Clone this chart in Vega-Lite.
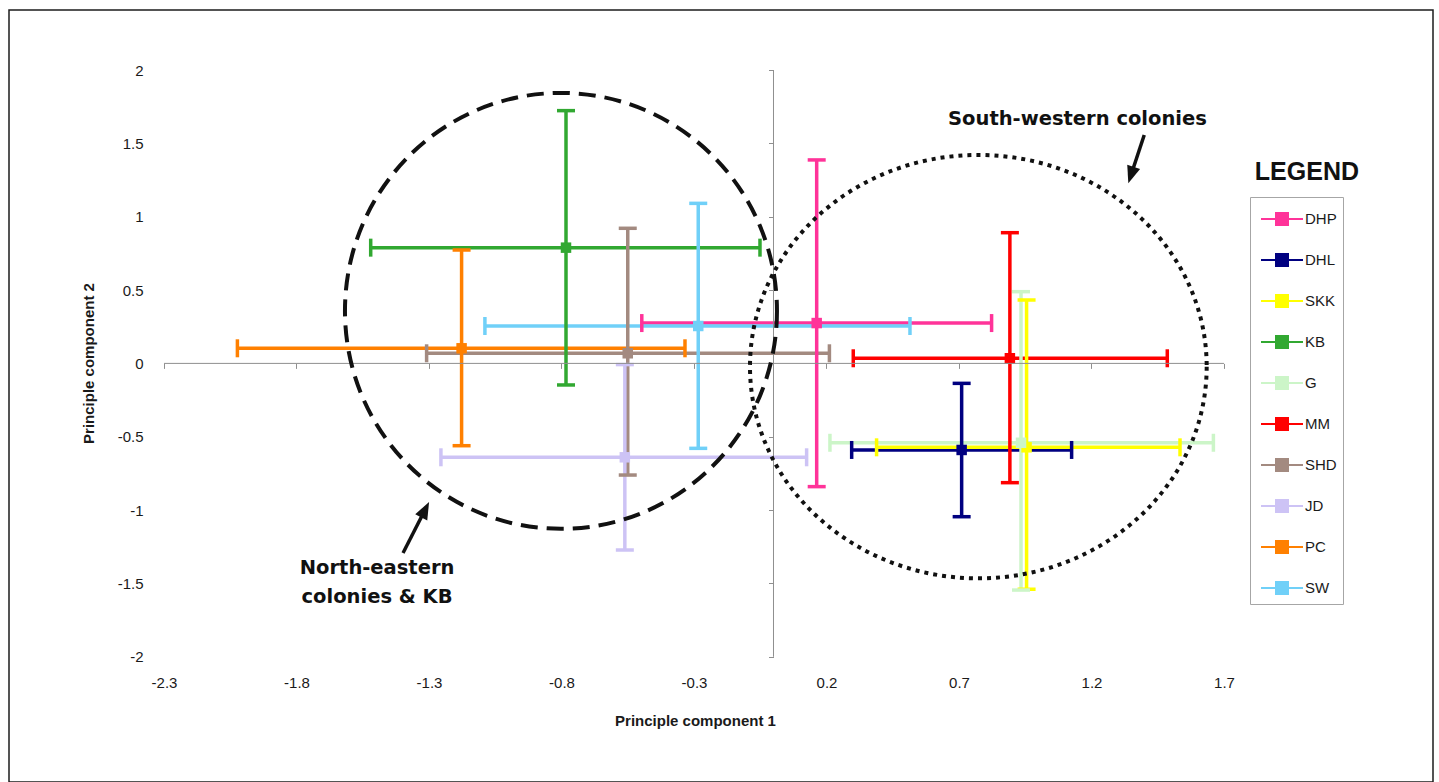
{
  "$schema": "https://vega.github.io/schema/vega-lite/v6.json",
  "width": 1424,
  "height": 772,
  "autosize": {"type": "none"},
  "padding": {"left": 9, "top": 10, "right": 6, "bottom": 0},
  "background": "white",
  "config": {
    "view": {"stroke": "#1c1c1c", "strokeWidth": 1.5},
    "axis": {
      "grid": false,
      "domain": false,
      "ticks": true,
      "tickSize": 5,
      "tickColor": "#8f8f8f",
      "labelFont": "Liberation Sans",
      "labelFontSize": 15,
      "labelColor": "#1a1a1a",
      "titleFont": "Liberation Sans",
      "titleFontSize": 15,
      "titleFontWeight": "bold",
      "titleColor": "#1a1a1a"
    }
  },
  "datasets": {
    "groups": [
      {"grp": "DHP", "x": 0.163, "y": 0.275, "xlo": -0.497, "xhi": 0.823, "ylo": -0.840, "yhi": 1.387},
      {"grp": "DHL", "x": 0.710, "y": -0.590, "xlo": 0.295, "xhi": 1.125, "ylo": -1.045, "yhi": -0.136},
      {"grp": "SKK", "x": 0.955, "y": -0.572, "xlo": 0.389, "xhi": 1.534, "ylo": -1.540, "yhi": 0.432},
      {"grp": "KB", "x": -0.783, "y": 0.789, "xlo": -1.520, "xhi": -0.051, "ylo": -0.147, "yhi": 1.723},
      {"grp": "G", "x": 0.934, "y": -0.541, "xlo": 0.213, "xhi": 1.660, "ylo": -1.545, "yhi": 0.489},
      {"grp": "MM", "x": 0.892, "y": 0.035, "xlo": 0.301, "xhi": 1.486, "ylo": -0.813, "yhi": 0.891},
      {"grp": "SHD", "x": -0.550, "y": 0.069, "xlo": -1.309, "xhi": 0.211, "ylo": -0.761, "yhi": 0.921},
      {"grp": "JD", "x": -0.561, "y": -0.640, "xlo": -1.255, "xhi": 0.125, "ylo": -1.272, "yhi": -0.008},
      {"grp": "PC", "x": -1.177, "y": 0.103, "xlo": -2.023, "xhi": -0.334, "ylo": -0.561, "yhi": 0.773},
      {"grp": "SW", "x": -0.284, "y": 0.255, "xlo": -1.089, "xhi": 0.515, "ylo": -0.579, "yhi": 1.091}
    ],
    "regions": [
      {"region": "North-eastern colonies & KB", "cx": -0.802, "cy": 0.358},
      {"region": "South-western colonies", "cx": 0.773, "cy": -0.022}
    ],
    "arrows": [
      {"arrow": "ne", "x": -1.398, "y": -1.292, "tx": -1.310, "ty": -0.981},
      {"arrow": "sw", "x": 1.399, "y": 1.557, "tx": 1.346, "ty": 1.267}
    ],
    "notes": [
      {"label": "South-western colonies", "x": 1.147, "y": 1.666},
      {"label": "North-eastern", "x": -1.496, "y": -1.395},
      {"label": "colonies & KB", "x": -1.496, "y": -1.592}
    ],
    "heading": [
      {"label": "LEGEND", "x": 2.013, "y": 1.305}
    ]
  },
  "layer": [
    {
      "data": {"name": "groups"},
      "mark": {"type": "rule", "strokeWidth": 3.5},
      "encoding": {
        "x": {
          "field": "xlo",
          "type": "quantitative",
          "scale": {"domain": [-2.8849, 2.4887], "nice": false, "zero": false},
          "axis": {
            "title": "Principle component 1",
            "orient": "bottom",
            "offset": -418.6,
            "values": [-2.3, -1.8, -1.3, -0.8, -0.3, 0.2, 0.7, 1.2, 1.7],
            "labelExpr": "toString(datum.value)",
            "labelPadding": 307,
            "labelFlush": false,
            "labelOverlap": false,
            "titleX": 686,
            "titleY": 357,
            "titleBaseline": "middle"
          }
        },
        "x2": {"field": "xhi"},
        "y": {
          "field": "y",
          "type": "quantitative",
          "scale": {"domain": [-2.8534, 2.409], "nice": false, "zero": false},
          "axis": {
            "title": "Principle component 2",
            "orient": "left",
            "offset": -764.5,
            "values": [-2, -1.5, -1, -0.5, 0, 0.5, 1, 1.5, 2],
            "labelExpr": "toString(datum.value)",
            "labelPadding": 625.5,
            "labelFlush": false,
            "labelOverlap": false,
            "titleX": -685.5,
            "titleY": 353,
            "titleBaseline": "middle"
          }
        },
        "color": {
          "field": "grp",
          "type": "nominal",
          "scale": {
            "domain": ["DHP", "DHL", "SKK", "KB", "G", "MM", "SHD", "JD", "PC", "SW"],
            "range": ["#ff3399", "#000080", "#ffff00", "#31a831", "#ccf5c8", "#ff0000", "#a38a80", "#cdc3f5", "#ff8000", "#70d0f8"]
          },
          "legend": {
            "title": null,
            "orient": "none",
            "legendX": 1241,
            "legendY": 187,
            "padding": 6,
            "strokeColor": "#a6a6a6",
            "fillColor": "white",
            "symbolType": "M -1.4 0 L 1.4 0 M -0.4 -0.4 L 0.4 -0.4 L 0.4 0.4 L -0.4 0.4 Z",
            "symbolSize": 900,
            "symbolOffset": 10,
            "symbolStrokeWidth": 2,
            "labelOffset": 7,
            "rowPadding": 15,
            "labelFont": "Liberation Sans",
            "labelFontSize": 15,
            "labelColor": "#1a1a1a",
            "symbolLimit": 0,
            "encode": {
              "symbols": {
                "update": {
                  "fill": {"scale": "color", "field": "value"},
                  "stroke": {"scale": "color", "field": "value"},
                  "strokeWidth": {"value": 2},
                  "opacity": {"value": 1}
                }
              }
            }
          }
        }
      }
    },
    {
      "data": {"name": "groups"},
      "mark": {"type": "rule", "strokeWidth": 3.5},
      "encoding": {
        "x": {"field": "x", "type": "quantitative"},
        "y": {"field": "ylo", "type": "quantitative"},
        "y2": {"field": "yhi"},
        "color": {"field": "grp", "type": "nominal"}
      }
    },
    {
      "data": {"name": "groups"},
      "transform": [{"fold": ["xlo", "xhi"], "as": ["end", "xe"]}],
      "mark": {"type": "tick", "orient": "vertical", "size": 18, "thickness": 3.5, "opacity": 1},
      "encoding": {
        "x": {"field": "xe", "type": "quantitative"},
        "y": {"field": "y", "type": "quantitative"},
        "color": {"field": "grp", "type": "nominal"}
      }
    },
    {
      "data": {"name": "groups"},
      "transform": [{"fold": ["ylo", "yhi"], "as": ["end", "ye"]}],
      "mark": {"type": "tick", "orient": "horizontal", "size": 18, "thickness": 3.5, "opacity": 1},
      "encoding": {
        "x": {"field": "x", "type": "quantitative"},
        "y": {"field": "ye", "type": "quantitative"},
        "color": {"field": "grp", "type": "nominal"}
      }
    },
    {
      "data": {"name": "groups"},
      "mark": {"type": "point", "shape": "square", "filled": true, "size": 110, "opacity": 1},
      "encoding": {
        "x": {"field": "x", "type": "quantitative"},
        "y": {"field": "y", "type": "quantitative"},
        "color": {"field": "grp", "type": "nominal"}
      }
    },
    {
      "data": {"values": [{"x0": -2.3, "x1": 1.7, "y0": 0}]},
      "mark": {"type": "rule", "color": "#8f8f8f", "strokeWidth": 1},
      "encoding": {
        "x": {"field": "x0", "type": "quantitative"},
        "x2": {"field": "x1"},
        "y": {"field": "y0", "type": "quantitative"}
      }
    },
    {
      "data": {"values": [{"x0": 0, "y0": -2, "y1": 2}]},
      "mark": {"type": "rule", "color": "#8f8f8f", "strokeWidth": 1},
      "encoding": {
        "x": {"field": "x0", "type": "quantitative"},
        "y": {"field": "y0", "type": "quantitative"},
        "y2": {"field": "y1"}
      }
    },
    {
      "data": {"name": "regions"},
      "transform": [{"filter": "datum.region == 'North-eastern colonies & KB'"}],
      "mark": {
        "type": "point",
        "filled": false,
        "opacity": 1,
        "stroke": "#111111",
        "strokeWidth": 4,
        "strokeDash": [17, 9],
        "size": 186624,
        "shape": "M 1 0 C 1 0.5573 0.5523 1.009 0 1.009 C -0.5523 1.009 -1 0.5573 -1 0 C -1 -0.5573 -0.5523 -1.009 0 -1.009 C 0.5523 -1.009 1 -0.5573 1 0 Z"
      },
      "encoding": {
        "x": {"field": "cx", "type": "quantitative"},
        "y": {"field": "cy", "type": "quantitative"}
      }
    },
    {
      "data": {"name": "regions"},
      "transform": [{"filter": "datum.region == 'South-western colonies'"}],
      "mark": {
        "type": "point",
        "filled": false,
        "opacity": 1,
        "stroke": "#111111",
        "strokeWidth": 4,
        "strokeDash": [4, 5],
        "size": 208575,
        "shape": "M 1 0 C 1 0.512 0.5523 0.927 0 0.927 C -0.5523 0.927 -1 0.512 -1 0 C -1 -0.512 -0.5523 -0.927 0 -0.927 C 0.5523 -0.927 1 -0.512 1 0 Z"
      },
      "encoding": {
        "x": {"field": "cx", "type": "quantitative"},
        "y": {"field": "cy", "type": "quantitative"}
      }
    },
    {
      "data": {"name": "arrows"},
      "mark": {"type": "rule", "color": "#111111", "strokeWidth": 3.5},
      "encoding": {
        "x": {"field": "x", "type": "quantitative"},
        "y": {"field": "y", "type": "quantitative"},
        "x2": {"field": "tx"},
        "y2": {"field": "ty"}
      }
    },
    {
      "data": {"name": "arrows"},
      "transform": [{"filter": "datum.arrow == 'ne'"}],
      "mark": {"type": "point", "filled": true, "opacity": 1, "color": "#111111", "size": 900, "angle": 27, "shape": "M 0 -0.4 L -0.45 0.75 L 0.45 0.75 Z"},
      "encoding": {
        "x": {"field": "tx", "type": "quantitative"},
        "y": {"field": "ty", "type": "quantitative"}
      }
    },
    {
      "data": {"name": "arrows"},
      "transform": [{"filter": "datum.arrow == 'sw'"}],
      "mark": {"type": "point", "filled": true, "opacity": 1, "color": "#111111", "size": 900, "angle": 198, "shape": "M 0 -0.4 L -0.45 0.75 L 0.45 0.75 Z"},
      "encoding": {
        "x": {"field": "tx", "type": "quantitative"},
        "y": {"field": "ty", "type": "quantitative"}
      }
    },
    {
      "data": {"name": "notes"},
      "mark": {"type": "text", "font": "DejaVu Sans", "fontWeight": "bold", "fontSize": 19.5, "color": "#111111", "align": "center", "baseline": "middle"},
      "encoding": {
        "x": {"field": "x", "type": "quantitative"},
        "y": {"field": "y", "type": "quantitative"},
        "text": {"field": "label"}
      }
    },
    {
      "data": {"name": "heading"},
      "mark": {"type": "text", "font": "Liberation Sans", "fontWeight": "bold", "fontSize": 25, "color": "#111111", "align": "center", "baseline": "middle"},
      "encoding": {
        "x": {"field": "x", "type": "quantitative"},
        "y": {"field": "y", "type": "quantitative"},
        "text": {"field": "label"}
      }
    }
  ]
}
